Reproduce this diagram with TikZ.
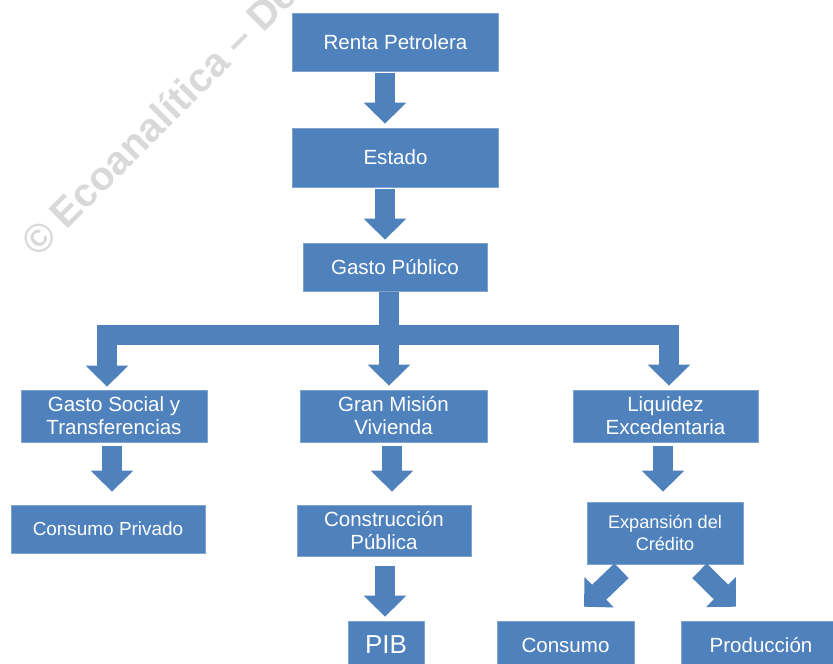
\documentclass[tikz,border=0pt]{standalone}
\usepackage{fontspec}
\setmainfont{Liberation Sans}
\usetikzlibrary{arrows.meta,calc}
\definecolor{boxblue}{HTML}{4F81BD}
\definecolor{boxedge}{HTML}{7FA3CF}
\definecolor{wm}{HTML}{D9D9D9}
\newcommand{\pxfont}[2]{\fontsize{#1*0.75pt}{#2*0.75pt}\selectfont}
\tikzset{
  x=0.75pt,y=-0.75pt,
  boxnode/.style={fill=boxblue,draw=boxedge,line width=0.4pt,text=white,align=center,inner sep=0pt,anchor=center},
  blk/.style={draw=boxblue,line width=15.4pt,-{Triangle[width=30.75pt,length=15.75pt,sep=0pt]}},
  barline/.style={draw=boxblue,line width=15pt},
  tA/.style={font=\fontsize{15.4pt}{17.2pt}\selectfont},
  tB/.style={font=\fontsize{13.6pt}{16.5pt}\selectfont},
  tC/.style={font=\fontsize{19.5pt}{22pt}\selectfont},
  wmark/.style={text=wm,font=\bfseries\fontsize{30pt}{30pt}\selectfont,rotate=45,anchor=base west,inner sep=0pt},
}
\begin{document}
\begin{tikzpicture}
\useasboundingbox (0,0) rectangle (833,664);
\clip (0,0) rectangle (833,664);
\fill[white] (0,0) rectangle (833,664);
\node[wmark] (mark) at (38,259) {© Ecoanalítica – Des};
% connectors first, boxes on top
\coordinate (busL) at (97,335);
\coordinate (busR) at (679,335);
\coordinate (busC) at (389,335);
% boxes
\node[boxnode,tA,minimum width=154.5pt,minimum height=43.5pt] (renta) at (395.5,42) {Renta Petrolera};
\node[boxnode,tA,minimum width=154.5pt,minimum height=44.25pt] (estado) at (395.5,157.5) {Estado};
\node[boxnode,tA,minimum width=138pt,minimum height=36pt] (gasto) at (395,267) {Gasto Público};
\node[boxnode,tA,minimum width=139.5pt,minimum height=39pt] (social) at (114,416) {Gasto Social y\\Transferencias};
\node[boxnode,tA,minimum width=140.25pt,minimum height=39pt] (gran) at (393.5,416) {Gran Misión\\Vivienda};
\node[boxnode,tA,minimum width=138.75pt,minimum height=39pt] (liquidez) at (665.5,416) {Liquidez\\Excedentaria};
\node[boxnode,tB,font=\fontsize{14.2pt}{17pt}\selectfont,minimum width=145.5pt,minimum height=36pt] (privado) at (108,529) {Consumo Privado};
\node[boxnode,tA,minimum width=130.5pt,minimum height=38.25pt] (construccion) at (384,530.5) {Construcción\\Pública};
\node[boxnode,tB,minimum width=117pt,minimum height=46.5pt] (expansion) at (665,533) {Expansión del\\Crédito};
\node[boxnode,tC,minimum width=57pt,minimum height=36pt] (pib) at (386,645) {PIB};
\node[boxnode,tA,minimum width=102.75pt,minimum height=36pt] (consumo) at (565.5,645) {Consumo};
\node[boxnode,tA,minimum width=120pt,minimum height=36pt] (produccion) at (761,645) {Producción};
% block arrows
\draw[blk] ($(renta.south)+(-10.5,2)$) -- ($(estado.north)+(-10.5,-4)$);
\draw[blk] ($(estado.south)+(-10.5,2)$) -- ($(gasto.north)+(-10,-3)$);
\draw[barline] ($(gasto.south)+(-6,1)$) -- (busC);
\draw[barline] (busL) -- (busR);
\draw[blk] ($(busL)+(10,-10)$) -- ($(social.north)+(-7,-3)$);
\draw[blk] (busC) -- ($(gran.north)+(-4.5,-4)$);
\draw[blk] ($(busR)+(-10,-10)$) -- ($(liquidez.north)+(3.5,-4)$);
\draw[blk] ($(social.south)+(-2,4)$) -- ($(privado.north)+(4,-13)$);
\draw[blk] ($(gran.south)+(-1.5,4)$) -- ($(construccion.north)+(8,-13)$);
\draw[blk] ($(liquidez.south)+(-2.5,4)$) -- ($(expansion.north)+(-2,-10)$);
\draw[blk] ($(construccion.south)+(1,10)$) -- ($(pib.north)+(-1,-4)$);
\draw[blk] ($(expansion.south)+(-43.5,6.5)$) -- ($(consumo.north)+(18.5,-14)$);
\draw[blk] ($(expansion.south)+(34.5,6.5)$) -- ($(produccion.north)+(-25,-14)$);
\end{tikzpicture}
\end{document}
